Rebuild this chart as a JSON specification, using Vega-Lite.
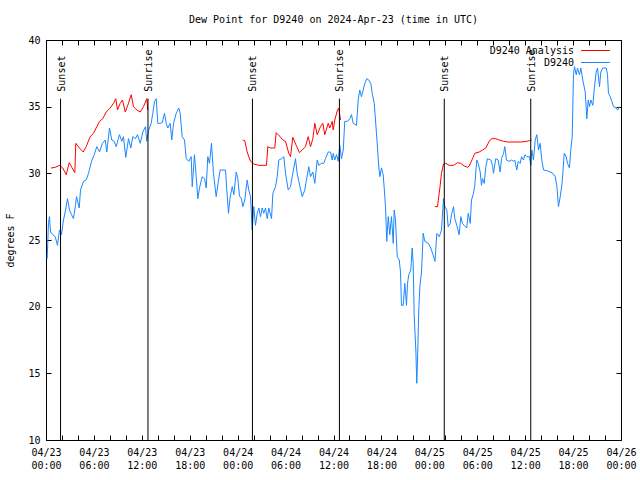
{
  "$schema": "https://vega.github.io/schema/vega-lite/v6.json",
  "width": 575,
  "height": 400,
  "autosize": {"type": "none"},
  "padding": {"left": 46, "top": 40, "right": 19, "bottom": 40},
  "background": "white",
  "title": {"text": "Dew Point for D9240 on 2024-Apr-23 (time in UTC)", "font": "DejaVu Sans Mono", "fontSize": 10, "fontWeight": "normal", "color": "black", "offset": 10, "anchor": "middle"},
  "config": {
    "view": {"stroke": "black", "strokeWidth": 1},
    "font": "DejaVu Sans Mono",
    "axis": {"grid": false, "domain": false, "tickColor": "black", "tickSize": -5, "labelColor": "black", "labelFont": "DejaVu Sans Mono", "labelFontSize": 10, "titleFont": "DejaVu Sans Mono", "titleFontSize": 10, "titleFontWeight": "normal", "titleColor": "black", "labelOverlap": false, "labelFlush": false},
    "legend": {"labelFont": "DejaVu Sans Mono", "labelFontSize": 10, "labelColor": "black"}
  },
  "datasets": {
    "obs": [
      {"h":0.15,"v":23.6},{"h":0.31,"v":26.3},{"h":0.44,"v":26.75},{"h":0.56,"v":25.6},{"h":0.85,"v":25.4},{"h":1.15,"v":25.25},{"h":1.44,"v":24.6},{"h":1.69,"v":25.75},{"h":1.94,"v":25.4},{"h":2.19,"v":26.5},{"h":2.40,"v":27.1},{"h":2.69,"v":28.1},{"h":2.94,"v":27.25},{"h":3.19,"v":26.9},{"h":3.44,"v":26.6},{"h":3.69,"v":27.6},{"h":3.82,"v":28.25},{"h":4.16,"v":27.4},{"h":4.32,"v":28.75},{"h":4.70,"v":29.4},{"h":5.03,"v":29.5},{"h":5.32,"v":30},{"h":5.70,"v":30.9},{"h":6.04,"v":31.4},{"h":6.36,"v":32},{"h":6.70,"v":31.6},{"h":7.07,"v":32.25},{"h":7.41,"v":32.5},{"h":7.61,"v":31.6},{"h":7.95,"v":33.4},{"h":8.24,"v":32.5},{"h":8.54,"v":32.4},{"h":8.79,"v":32},{"h":9.20,"v":32.9},{"h":9.49,"v":32.4},{"h":9.70,"v":32.75},{"h":9.99,"v":31.2},{"h":10.33,"v":32.6},{"h":10.62,"v":31.9},{"h":10.87,"v":32.75},{"h":11.21,"v":32.6},{"h":11.46,"v":32.9},{"h":11.80,"v":32.25},{"h":12.12,"v":33.1},{"h":12.46,"v":33.5},{"h":12.62,"v":32.4},{"h":12.87,"v":33.25},{"h":13.17,"v":33.75},{"h":13.37,"v":34.5},{"h":13.59,"v":35.4},{"h":13.80,"v":35.6},{"h":14.00,"v":33.75},{"h":14.30,"v":33.75},{"h":14.55,"v":33.8},{"h":14.84,"v":34.5},{"h":15.05,"v":33.75},{"h":15.25,"v":33.4},{"h":15.55,"v":33.75},{"h":15.75,"v":32.5},{"h":15.97,"v":33.75},{"h":16.30,"v":34.5},{"h":16.63,"v":34.9},{"h":16.80,"v":34.5},{"h":17.05,"v":32.75},{"h":17.34,"v":32.5},{"h":17.56,"v":31.1},{"h":17.88,"v":30.9},{"h":18.18,"v":31.25},{"h":18.31,"v":29},{"h":18.59,"v":31.4},{"h":18.81,"v":29.75},{"h":19.01,"v":28.1},{"h":19.22,"v":28.9},{"h":19.56,"v":29.75},{"h":19.85,"v":29.6},{"h":20.06,"v":28.9},{"h":20.26,"v":31.25},{"h":20.47,"v":30.75},{"h":20.72,"v":32.25},{"h":20.97,"v":30},{"h":21.31,"v":28.25},{"h":21.60,"v":29.5},{"h":21.81,"v":30.25},{"h":22.48,"v":30.25},{"h":22.64,"v":28.75},{"h":22.85,"v":27},{"h":23.06,"v":28.25},{"h":23.32,"v":29},{"h":23.52,"v":28.4},{"h":23.82,"v":30.1},{"h":24.02,"v":29.6},{"h":24.23,"v":28.3},{"h":24.48,"v":28.1},{"h":24.64,"v":27.5},{"h":24.89,"v":28},{"h":25.19,"v":29.5},{"h":25.39,"v":28.75},{"h":25.61,"v":28.25},{"h":25.82,"v":25.75},{"h":26.02,"v":27.5},{"h":26.23,"v":26.1},{"h":26.45,"v":27},{"h":26.65,"v":27.4},{"h":26.86,"v":26.75},{"h":27.07,"v":27.4},{"h":27.27,"v":27},{"h":27.49,"v":27.4},{"h":27.70,"v":26.6},{"h":27.90,"v":27.4},{"h":28.24,"v":26.6},{"h":28.41,"v":28.5},{"h":28.74,"v":29},{"h":28.95,"v":29.75},{"h":29.15,"v":31},{"h":29.49,"v":31.1},{"h":29.78,"v":31.25},{"h":29.99,"v":30},{"h":30.33,"v":28.75},{"h":30.62,"v":29},{"h":30.83,"v":29.75},{"h":31.24,"v":31.1},{"h":31.45,"v":30},{"h":31.66,"v":29.4},{"h":32.08,"v":28.25},{"h":32.41,"v":28.75},{"h":32.58,"v":29.4},{"h":32.91,"v":30.5},{"h":33.12,"v":29.75},{"h":33.41,"v":30.1},{"h":33.66,"v":29.25},{"h":33.96,"v":31},{"h":34.16,"v":30.6},{"h":34.50,"v":30.75},{"h":34.79,"v":30.75},{"h":35.00,"v":31.1},{"h":35.34,"v":31.6},{"h":35.62,"v":31.6},{"h":35.84,"v":31.0},{"h":35.96,"v":31.5},{"h":36.16,"v":31},{"h":36.38,"v":31.4},{"h":36.59,"v":30.9},{"h":36.79,"v":32.1},{"h":37.00,"v":31.1},{"h":37.22,"v":31.75},{"h":37.41,"v":33.9},{"h":37.75,"v":33.9},{"h":38.04,"v":34.1},{"h":38.25,"v":34.4},{"h":38.47,"v":33.75},{"h":38.88,"v":33.6},{"h":39.09,"v":35.5},{"h":39.29,"v":36.25},{"h":39.50,"v":35.75},{"h":39.72,"v":36.25},{"h":39.92,"v":36.75},{"h":40.17,"v":37.1},{"h":40.42,"v":37},{"h":40.67,"v":36.75},{"h":40.85,"v":36},{"h":41.10,"v":35.25},{"h":41.26,"v":34},{"h":41.47,"v":32.25},{"h":41.67,"v":30.5},{"h":41.80,"v":29.75},{"h":42.01,"v":30.4},{"h":42.22,"v":29.9},{"h":42.35,"v":28.9},{"h":42.51,"v":27.5},{"h":42.67,"v":24.9},{"h":42.85,"v":26.75},{"h":43.05,"v":25.4},{"h":43.26,"v":26.75},{"h":43.48,"v":24.75},{"h":43.60,"v":27.25},{"h":43.76,"v":26.5},{"h":43.98,"v":23.75},{"h":44.23,"v":23.5},{"h":44.39,"v":22.6},{"h":44.51,"v":20.1},{"h":44.73,"v":20.1},{"h":44.93,"v":21.75},{"h":45.14,"v":20.1},{"h":45.27,"v":21.75},{"h":45.43,"v":22.4},{"h":45.68,"v":22.75},{"h":45.85,"v":24.4},{"h":45.98,"v":23.25},{"h":46.10,"v":19.4},{"h":46.31,"v":16.75},{"h":46.43,"v":14.25},{"h":46.52,"v":16},{"h":46.68,"v":19.75},{"h":46.81,"v":21.5},{"h":47.02,"v":22.6},{"h":47.23,"v":25.5},{"h":47.43,"v":24.9},{"h":47.86,"v":24.75},{"h":48.18,"v":24.4},{"h":48.46,"v":23.9},{"h":48.71,"v":23.4},{"h":48.94,"v":25.5},{"h":49.24,"v":25.25},{"h":49.52,"v":25.75},{"h":49.77,"v":28.1},{"h":49.94,"v":27.5},{"h":50.19,"v":27.25},{"h":50.36,"v":26},{"h":50.61,"v":26.25},{"h":50.78,"v":26.9},{"h":51.03,"v":27.5},{"h":51.19,"v":26.6},{"h":51.44,"v":26.1},{"h":51.74,"v":25.4},{"h":51.94,"v":26.75},{"h":52.15,"v":26.25},{"h":52.37,"v":26.1},{"h":52.69,"v":25.9},{"h":52.87,"v":27},{"h":53.12,"v":26.25},{"h":53.28,"v":28},{"h":53.53,"v":28.5},{"h":53.69,"v":29.1},{"h":53.94,"v":31},{"h":54.12,"v":30.75},{"h":54.37,"v":30.1},{"h":54.53,"v":29.1},{"h":54.66,"v":29.6},{"h":54.87,"v":29.25},{"h":55.07,"v":30.5},{"h":55.28,"v":31.1},{"h":55.70,"v":31},{"h":55.91,"v":30.6},{"h":56.03,"v":30},{"h":56.32,"v":31.1},{"h":56.62,"v":31},{"h":56.87,"v":30.1},{"h":57.04,"v":31.1},{"h":57.29,"v":31.5},{"h":57.45,"v":32},{"h":57.66,"v":31},{"h":58.00,"v":30.9},{"h":58.29,"v":31},{"h":58.54,"v":30.9},{"h":58.70,"v":31},{"h":58.95,"v":30.25},{"h":59.13,"v":30.9},{"h":59.38,"v":30.75},{"h":59.54,"v":31.25},{"h":59.79,"v":31},{"h":59.96,"v":31.4},{"h":60.21,"v":31.25},{"h":60.54,"v":31.25},{"h":60.71,"v":30.6},{"h":60.83,"v":31.75},{"h":61.04,"v":31},{"h":61.26,"v":32.5},{"h":61.46,"v":32.9},{"h":61.67,"v":31.75},{"h":61.88,"v":32.25},{"h":62.08,"v":31},{"h":62.30,"v":30.25},{"h":62.71,"v":30.2},{"h":63.14,"v":30.1},{"h":63.46,"v":30},{"h":63.76,"v":29.75},{"h":63.96,"v":29.1},{"h":64.17,"v":27.5},{"h":64.39,"v":28.25},{"h":64.59,"v":29.1},{"h":64.71,"v":29.9},{"h":64.89,"v":31.5},{"h":65.14,"v":31.25},{"h":65.30,"v":30.75},{"h":65.55,"v":30.4},{"h":65.71,"v":31.75},{"h":65.89,"v":32.75},{"h":66.05,"v":37.4},{"h":66.18,"v":38},{"h":66.39,"v":37.4},{"h":66.55,"v":37.9},{"h":66.80,"v":37.4},{"h":66.97,"v":37.9},{"h":67.22,"v":37},{"h":67.52,"v":36.1},{"h":67.72,"v":34.1},{"h":67.89,"v":35.5},{"h":68.06,"v":35},{"h":68.22,"v":35.5},{"h":68.47,"v":35.1},{"h":68.64,"v":36.25},{"h":68.89,"v":37.6},{"h":69.06,"v":37.9},{"h":69.31,"v":36.5},{"h":69.47,"v":37.6},{"h":69.72,"v":37.9},{"h":70.15,"v":37.9},{"h":70.31,"v":37.4},{"h":70.43,"v":36},{"h":70.65,"v":35.75},{"h":70.85,"v":35.4},{"h":71.06,"v":35},{"h":71.40,"v":34.9},{"h":71.60,"v":34.75},{"h":71.81,"v":35}
    ],
    "analysis": [
      {"h":0.63,"v":30.4,"g":1},{"h":1.15,"v":30.45,"g":1},{"h":1.73,"v":30.6,"g":1},{"h":2.10,"v":30.4,"g":1},{"h":2.53,"v":29.9,"g":1},{"h":2.91,"v":30.8,"g":1},{"h":3.23,"v":30.45,"g":1},{"h":3.61,"v":30.05,"g":1},{"h":3.73,"v":32.25,"g":1},{"h":4.19,"v":31.9,"g":1},{"h":4.66,"v":31.6,"g":1},{"h":5.03,"v":32,"g":1},{"h":5.53,"v":32.75,"g":1},{"h":5.95,"v":33,"g":1},{"h":6.36,"v":33.5,"g":1},{"h":6.70,"v":33.9,"g":1},{"h":7.11,"v":34.1,"g":1},{"h":7.54,"v":34.6,"g":1},{"h":8.04,"v":34.9,"g":1},{"h":8.45,"v":35.25,"g":1},{"h":8.74,"v":35.6,"g":1},{"h":8.95,"v":34.75,"g":1},{"h":9.29,"v":35.25,"g":1},{"h":9.58,"v":35.5,"g":1},{"h":9.92,"v":34.6,"g":1},{"h":10.33,"v":35.25,"g":1},{"h":10.67,"v":35.9,"g":1},{"h":10.96,"v":35,"g":1},{"h":11.37,"v":34.75,"g":1},{"h":11.80,"v":34.6,"g":1},{"h":12.21,"v":35,"g":1},{"h":12.62,"v":35.6,"g":1},{"h":12.75,"v":34.75,"g":1},
      {"h":24.64,"v":32.5,"g":2},{"h":24.89,"v":32.45,"g":2},{"h":25.19,"v":31.6,"g":2},{"h":25.61,"v":30.9,"g":2},{"h":26.02,"v":30.7,"g":2},{"h":26.65,"v":30.6,"g":2},{"h":27.61,"v":30.6,"g":2},{"h":27.77,"v":32,"g":2},{"h":28.11,"v":31.9,"g":2},{"h":28.65,"v":31.9,"g":2},{"h":28.82,"v":33.05,"g":2},{"h":29.24,"v":32.8,"g":2},{"h":29.65,"v":32.5,"g":2},{"h":29.99,"v":32.4,"g":2},{"h":30.40,"v":31.5,"g":2},{"h":30.62,"v":31.25,"g":2},{"h":30.90,"v":32.7,"g":2},{"h":31.33,"v":32.1,"g":2},{"h":31.74,"v":31.55,"g":2},{"h":32.08,"v":31.75,"g":2},{"h":32.49,"v":32,"g":2},{"h":32.83,"v":32.75,"g":2},{"h":33.12,"v":32,"g":2},{"h":33.41,"v":32.6,"g":2},{"h":33.66,"v":33.75,"g":2},{"h":33.96,"v":32.9,"g":2},{"h":34.37,"v":33.5,"g":2},{"h":34.66,"v":33.75,"g":2},{"h":34.91,"v":32.9,"g":2},{"h":35.34,"v":33.75,"g":2},{"h":35.54,"v":33.4,"g":2},{"h":35.84,"v":33.9,"g":2},{"h":35.96,"v":33.25,"g":2},{"h":36.16,"v":34,"g":2},{"h":36.50,"v":34.75,"g":2},{"h":36.66,"v":34.9,"g":2},{"h":36.88,"v":34,"g":2},
      {"h":48.69,"v":27.5,"g":3},{"h":49.02,"v":27.5,"g":3},{"h":49.36,"v":29.1,"g":3},{"h":49.52,"v":30,"g":3},{"h":49.77,"v":30.7,"g":3},{"h":50.06,"v":30.75,"g":3},{"h":50.49,"v":30.6,"g":3},{"h":51.03,"v":30.6,"g":3},{"h":51.53,"v":30.8,"g":3},{"h":51.94,"v":30.75,"g":3},{"h":52.37,"v":30.55,"g":3},{"h":52.78,"v":30.45,"g":3},{"h":52.99,"v":30.55,"g":3},{"h":53.41,"v":31.1,"g":3},{"h":53.69,"v":31.5,"g":3},{"h":54.24,"v":31.6,"g":3},{"h":54.66,"v":31.75,"g":3},{"h":55.07,"v":31.9,"g":3},{"h":55.50,"v":32.4,"g":3},{"h":55.78,"v":32.6,"g":3},{"h":56.32,"v":32.6,"g":3},{"h":56.75,"v":32.5,"g":3},{"h":57.29,"v":32.4,"g":3},{"h":57.79,"v":32.35,"g":3},{"h":58.63,"v":32.35,"g":3},{"h":59.45,"v":32.35,"g":3},{"h":60.21,"v":32.4,"g":3},{"h":60.54,"v":32.45,"g":3},{"h":60.80,"v":32.5,"g":3}
    ],
    "sun": [
      {"ev":"Sunset","h":1.82},{"ev":"Sunrise","h":12.77},{"ev":"Sunset","h":25.85},{"ev":"Sunrise","h":36.74},{"ev":"Sunset","h":49.87},{"ev":"Sunrise","h":60.70}
    ]
  },
  "layer": [
    {
      "data": {"name": "obs"},
      "mark": {"type": "line", "strokeWidth": 1, "interpolate": "linear"},
      "encoding": {
        "x": {"field": "h", "type": "quantitative", "scale": {"domain": [0, 72], "nice": false, "zero": false},
          "axis": {"orient": "bottom", "title": null, "values": [0,2,4,6,8,10,12,14,16,18,20,22,24,26,28,30,32,34,36,38,40,42,44,46,48,50,52,54,56,58,60,62,64,66,68,70,72], "labelPadding": 12, "labelLineHeight": 13.5,
            "labelExpr": "datum.value % 6 == 0 ? ['04/' + (23 + floor(datum.value / 24)), (datum.value % 24 < 10 ? '0' : '') + (datum.value % 24) + ':00'] : ''"}},
        "y": {"field": "v", "type": "quantitative", "scale": {"domain": [10, 40], "nice": false, "zero": false},
          "axis": {"orient": "left", "title": "degrees F", "values": [10,15,20,25,30,35,40], "labelPadding": 11, "titlePadding": 12}},
        "color": {"datum": "D9240", "type": "nominal",
          "scale": {"domain": ["D9240 Analysis", "D9240"], "range": ["#ff0000", "#1a88ff"]},
          "legend": {"title": null, "orient": "none", "legendX": 543, "legendY": 4, "symbolType": "M-2.4,0H2.4", "symbolSize": 144, "symbolStrokeWidth": 1, "rowPadding": 0, "padding": 0, "labelAlign": "right", "labelOffset": -28, "labelLimit": 300,
            "encode": {"symbols": {"update": {"stroke": {"scale": "color", "field": "value"}, "strokeWidth": {"value": 1}, "opacity": {"value": 1}, "strokeOpacity": {"value": 1}}}}}}
      }
    },
    {
      "data": {"name": "analysis"},
      "mark": {"type": "line", "strokeWidth": 1, "interpolate": "linear"},
      "encoding": {
        "x": {"field": "h", "type": "quantitative",
          "axis": {"orient": "top", "title": null, "labels": false, "values": [0,2,4,6,8,10,12,14,16,18,20,22,24,26,28,30,32,34,36,38,40,42,44,46,48,50,52,54,56,58,60,62,64,66,68,70,72]}},
        "y": {"field": "v", "type": "quantitative",
          "axis": {"orient": "right", "title": null, "labels": false, "values": [10,15,20,25,30,35,40]}},
        "detail": {"field": "g", "type": "nominal"},
        "color": {"datum": "D9240 Analysis", "type": "nominal"}
      }
    },
    {
      "data": {"name": "sun"},
      "mark": {"type": "rule", "color": "black", "strokeWidth": 1},
      "encoding": {
        "x": {"field": "h", "type": "quantitative", "axis": null},
        "y": {"datum": 35.6, "type": "quantitative", "axis": null},
        "y2": {"datum": 10}
      }
    },
    {
      "data": {"name": "sun"},
      "mark": {"type": "text", "angle": 270, "align": "left", "baseline": "middle", "dx": 7, "dy": 1, "font": "DejaVu Sans Mono", "fontSize": 10, "color": "black"},
      "encoding": {
        "x": {"field": "h", "type": "quantitative", "axis": null},
        "y": {"datum": 35.6, "type": "quantitative", "axis": null},
        "text": {"field": "ev", "type": "nominal"}
      }
    }
  ],
  "resolve": {"axis": {"x": "independent", "y": "independent"}}
}
